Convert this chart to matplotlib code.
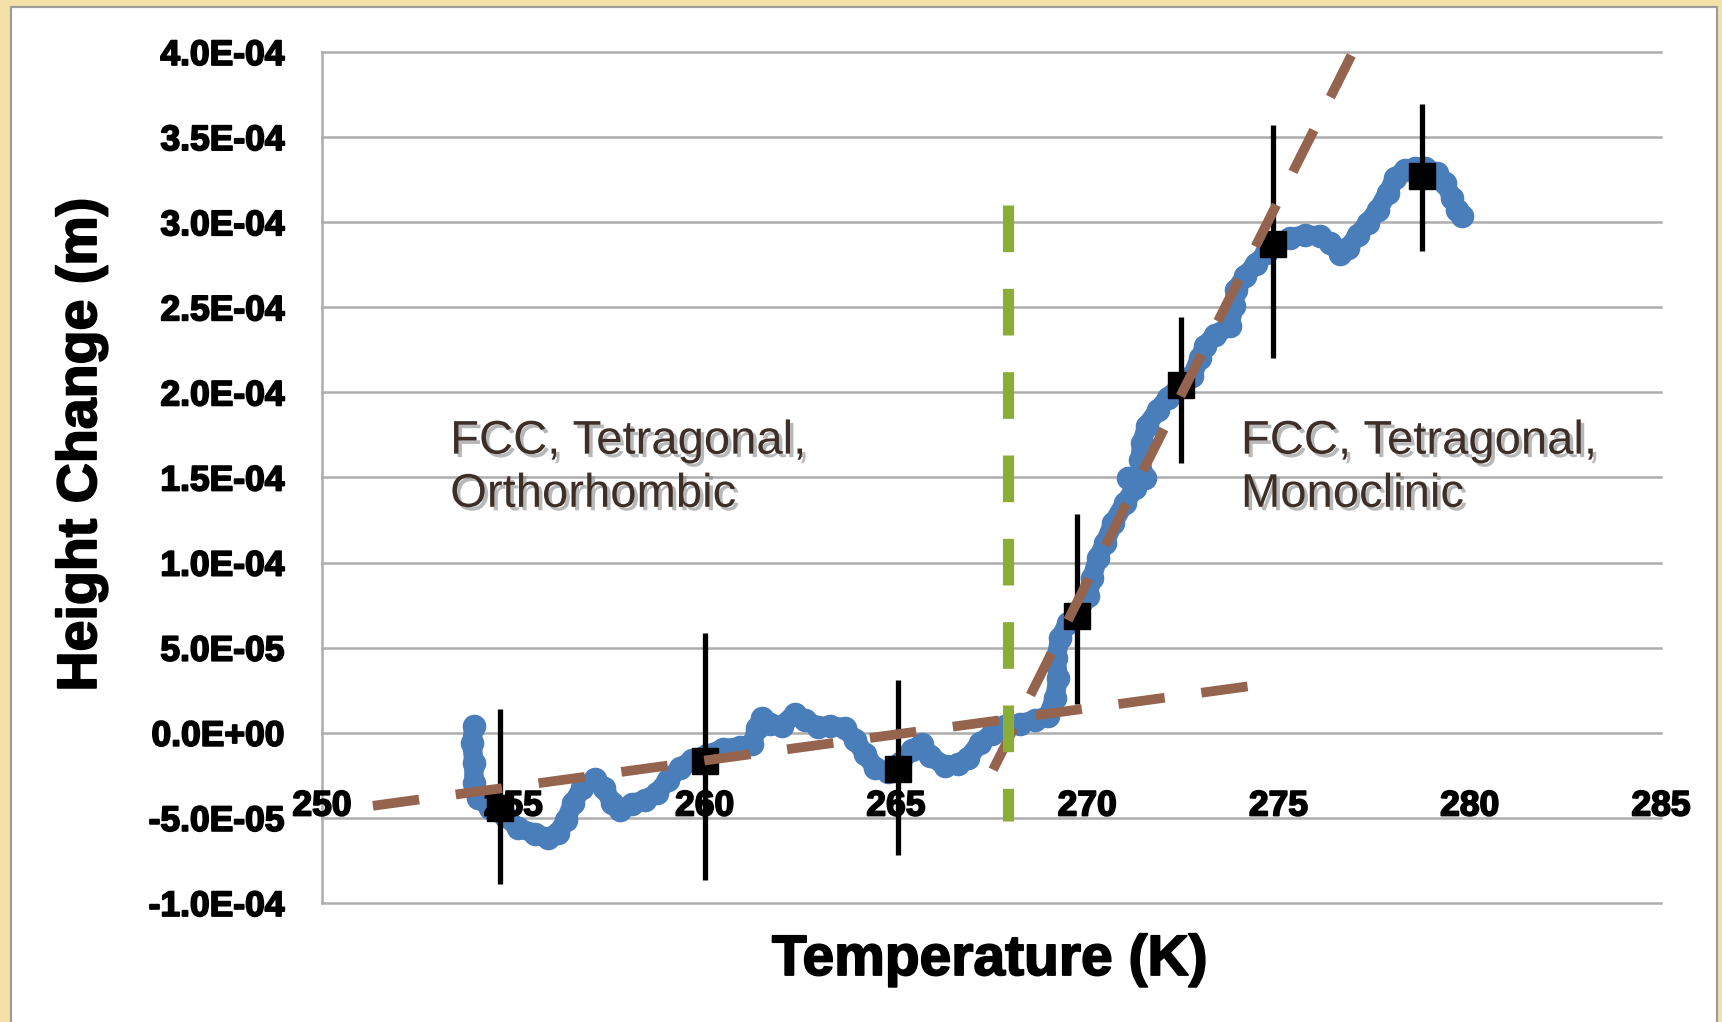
import numpy as np
import matplotlib.pyplot as plt
import matplotlib.patheffects as pe
from matplotlib.patches import Rectangle

plt.rcParams['font.family'] = ['Liberation Sans', 'DejaVu Sans']

# ---- dilatometer trace: temperature (K) vs. height change (1e-5 m) ----
temp_k = [253.97, 253.92, 253.97, 253.97, 254.08, 254.39, 254.78, 255.12, 255.57, 255.91,
          256.17, 256.38, 256.56, 256.80, 257.14, 257.37, 257.58, 257.79, 258.10, 258.44,
          258.76, 259.04, 259.36, 259.67, 260.06, 260.48, 260.93, 261.24, 261.37, 261.50,
          261.71, 262.02, 262.36, 262.63, 262.97, 263.28, 263.67, 263.93, 264.19, 264.46,
          264.80, 265.11, 265.42, 265.68, 265.89, 266.28, 266.62, 266.89, 267.20, 267.51,
          267.85, 268.25, 268.64, 268.98, 269.16, 269.24, 269.19, 269.29, 269.50, 269.76,
          270.02, 270.13, 270.28, 270.47, 270.68, 270.99, 271.25, 271.07, 271.51, 271.38,
          271.43, 271.56, 271.85, 272.11, 272.43, 272.74, 272.95, 273.08, 273.34, 273.73,
          273.84, 273.89, 274.13, 274.41, 274.68, 274.94, 275.30, 275.70, 276.09, 276.35,
          276.61, 276.82, 277.08, 277.34, 277.60, 277.86, 278.05, 278.31, 278.57, 278.83,
          279.15, 279.35, 279.54, 279.67, 279.80]
height_e5 = [0.41, -0.59, -1.76, -2.94, -3.82, -4.41, -4.88, -5.58, -5.93, -6.17,
             -5.88, -5.11, -4.11, -3.23, -2.70, -3.23, -4.11, -4.52, -4.17, -3.94,
             -3.53, -2.76, -2.06, -1.59, -1.29, -0.94, -0.82, -0.65, 0.29, 0.88,
             0.53, 0.41, 1.12, 0.76, 0.35, 0.41, 0.29, -0.41, -1.23, -2.06,
             -2.29, -1.76, -1.00, -0.65, -1.35, -1.94, -1.82, -1.47, -0.59, -0.06,
             0.41, 0.53, 0.76, 1.00, 2.06, 3.23, 4.41, 5.58, 6.46, 7.05,
             8.05, 9.11, 10.28, 11.16, 12.34, 13.51, 14.39, 14.98, 14.98, 16.04,
             17.04, 18.04, 18.98, 19.68, 20.39, 20.97, 22.03, 22.74, 23.38, 23.91,
             25.09, 26.03, 26.85, 27.55, 28.20, 28.73, 29.08, 29.26, 29.20, 28.79,
             28.14, 28.49, 29.26, 29.96, 30.73, 31.73, 32.61, 33.08, 33.19, 33.19,
             32.90, 32.31, 31.43, 30.73, 30.37]

# binned averages with spread
avg_temp = [254.65, 260.00, 265.05, 269.73, 272.45, 274.86, 278.75]
avg_height_e5 = [-4.41, -1.65, -2.10, 6.87, 20.45, 28.73, 32.72]
err_lo_e5 = [4.5, 7.0, 5.1, 5.2, 4.6, 6.7, 4.4]
err_hi_e5 = [5.8, 7.5, 5.2, 6.0, 4.0, 7.0, 4.2]

# linear fits below / above the transition
fit_low_t = [251.33, 274.31]
fit_low_e5 = [-4.29, 2.76]
fit_high_t = [267.54, 276.95]
fit_high_e5 = [-2.17, 40.0]

transition_t = 267.93
transition_span_e5 = [31.0, -5.2]

x_ticks = [250, 255, 260, 265, 270, 275, 280, 285]
y_ticks = [-1.0e-4, -5.0e-5, 0.0, 5.0e-5, 1.0e-4, 1.5e-4, 2.0e-4, 2.5e-4, 3.0e-4, 3.5e-4, 4.0e-4]

left_phases = 'FCC, Tetragonal,\nOrthorhombic'
right_phases = 'FCC, Tetragonal,\nMonoclinic'

e5 = lambda v: np.asarray(v) * 1e-5

fig = plt.figure(figsize=(17.22, 10.22), dpi=100)
fig.patch.set_facecolor('#F3E1A8')
fig.add_artist(Rectangle((11 / 1722, -0.02), 1706 / 1722, 1015 / 1022 + 0.02,
                         transform=fig.transFigure, facecolor='white',
                         edgecolor='#9C9C9C', lw=1.6, zorder=0))

ax = fig.add_axes([322 / 1722, 119 / 1022, 1339 / 1722, 851 / 1022])
ax.set_facecolor('none')
ax.set_xlim(250, 285)
ax.set_ylim(-1.0e-4, 4.0e-4)

for v in y_ticks:
    ax.axhline(v, color='#ADADAD', lw=1.8, zorder=1, clip_on=False)

for s in ['top', 'right', 'bottom']:
    ax.spines[s].set_visible(False)
ax.spines['left'].set_color('#ADADAD')
ax.spines['left'].set_linewidth(1.8)

bold_fx = [pe.withStroke(linewidth=1.3, foreground='black')]

ax.set_yticks(y_ticks, labels=[f'{v:.1E}' for v in y_ticks])
ax.tick_params(axis='y', length=0, pad=27, labelsize=25.5)
for lab in ax.get_yticklabels():
    lab.set_fontweight('bold')
    lab.set_path_effects(bold_fx)

ax.set_xticks(x_ticks)
ax.tick_params(axis='x', bottom=False, labelbottom=False)
for t in x_ticks:
    ax.text(t, -4.3e-5, str(t), ha='center', va='center', fontsize=25.5,
            fontweight='bold', path_effects=bold_fx, zorder=3, clip_on=False)

# raw trace
ax.plot(temp_k, e5(height_e5), color='#4A7EBB', lw=14, marker='o', ms=17,
        mec='none', solid_joinstyle='round', solid_capstyle='round', zorder=2)

# averages
ax.errorbar(avg_temp, e5(avg_height_e5), yerr=[e5(err_lo_e5), e5(err_hi_e5)],
            fmt='s', color='black', ms=19, elinewidth=3.8, capsize=0, zorder=4)

ax.plot(fit_low_t, e5(fit_low_e5), color='#95644F', lw=7,
        linestyle=(0, (4.8, 3.8)), dash_capstyle='butt', zorder=5)
ax.plot(fit_high_t, e5(fit_high_e5), color='#95644F', lw=7,
        linestyle=(0, (4.8, 3.8)), dash_capstyle='butt', zorder=5)

ax.plot([transition_t, transition_t], e5(transition_span_e5), color='#8AAE35', lw=8,
        linestyle=(0, (4.2, 3.3)), dash_capstyle='butt', zorder=6)

shadow = [pe.withSimplePatchShadow(offset=(2.5, -2.5), shadow_rgbFace='#7F7F7F', alpha=0.55)]
ax.text(253.35, 18.4e-5, left_phases, fontsize=34, color='#3D2F28', va='top', ha='left',
        linespacing=1.27, path_effects=shadow, zorder=7)
ax.text(274.02, 18.4e-5, right_phases, fontsize=34, color='#3D2F28', va='top', ha='left',
        linespacing=1.27, path_effects=shadow, zorder=7)

fig.text(990 / 1722, 62 / 1022, 'Temperature (K)', ha='center', va='center',
         fontsize=41, fontweight='bold', path_effects=bold_fx)
fig.text(82 / 1722, 577 / 1022, 'Height Change (m)', ha='center', va='center',
         rotation=90, fontsize=40, fontweight='bold', path_effects=bold_fx)

fig.savefig('out.png', dpi=100, facecolor=fig.get_facecolor())
